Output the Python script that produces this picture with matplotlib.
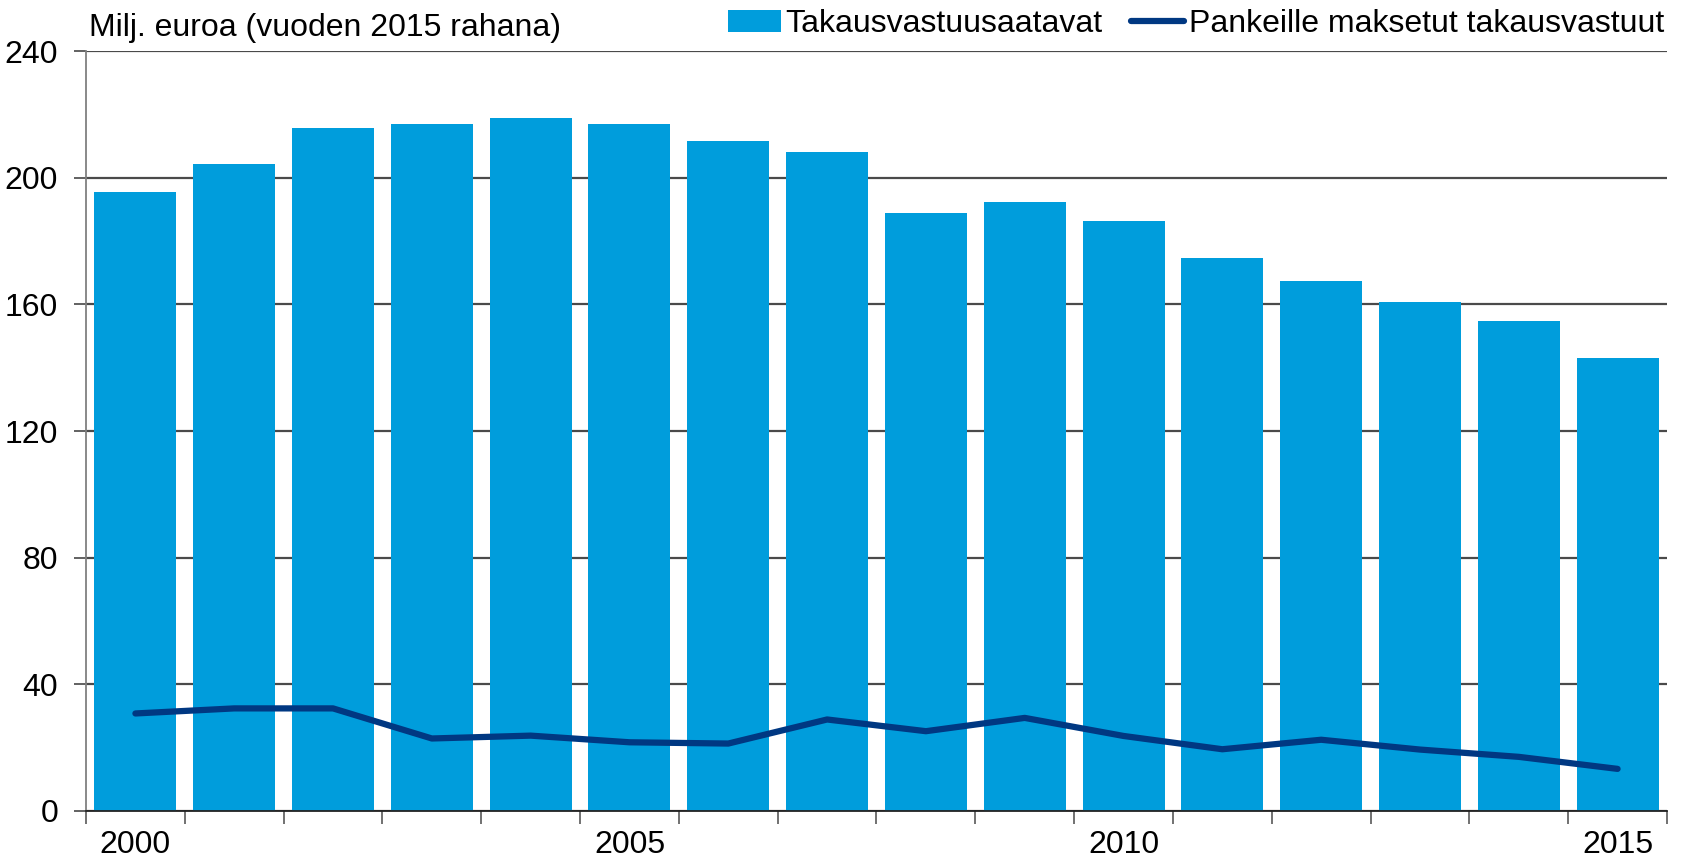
import matplotlib.pyplot as plt
import numpy as np

years = list(range(2000, 2016))
receivables = [195.6, 204.4, 215.6, 216.9, 219.0, 216.9, 211.5, 208.1,
               188.8, 192.2, 186.4, 174.6, 167.5, 160.7, 154.8, 143.2]
paid = [30.8, 32.4, 32.4, 22.9, 23.8, 21.7, 21.3, 28.9,
        25.2, 29.4, 23.7, 19.5, 22.5, 19.4, 17.1, 13.3]
tick_years = [2000, 2005, 2010, 2015]

BAR = "#009ddc"
LINE = "#003882"


def main():
    plt.rcParams.update({"font.family": ["Liberation Sans", "DejaVu Sans"], "font.size": 23})
    fig = plt.figure(figsize=(16.83, 8.61), dpi=100)
    ax = fig.add_axes([86 / 1683, 1 - 811 / 861, (1667 - 86) / 1683, (811 - 51) / 861])

    x = np.arange(len(years))
    bars = ax.bar(x, receivables, width=0.83, color=BAR, zorder=2, label="Takausvastuusaatavat")
    line, = ax.plot(x, paid, color=LINE, lw=4.5, zorder=3, solid_capstyle="round",
                    label="Pankeille maksetut takausvastuut")

    ax.set_xlim(-0.5, len(years) - 0.5)
    ax.set_ylim(0, 240)
    ax.set_yticks(range(0, 241, 40))
    ax.yaxis.grid(True, color="#4a4a4a", lw=1.6, zorder=1)
    ax.set_axisbelow(True)

    # tick marks between the bars, labels under selected years
    ax.set_xticks(np.arange(-0.5, len(years), 1.0))
    ax.set_xticklabels([])
    ax.set_xticks([years.index(y) for y in tick_years], minor=True)
    ax.set_xticklabels([str(y) for y in tick_years], minor=True)
    ax.tick_params(axis="x", which="major", length=9, width=1.3, color="#666666", direction="out")
    ax.tick_params(axis="x", which="minor", length=0, pad=14)
    ax.tick_params(axis="y", length=9, width=1.3, color="#555555", pad=11)

    for side in ("top", "right"):
        ax.spines[side].set_visible(False)
    ax.spines["left"].set_color("#808080")
    ax.spines["left"].set_linewidth(1.3)
    ax.spines["bottom"].set_color("#222222")
    ax.spines["bottom"].set_linewidth(1.3)

    fig.text(89 / 1683, 1 - 36 / 861, "Milj. euroa (vuoden 2015 rahana)", ha="left", va="baseline")
    fig.legend([bars, line], [bars.get_label(), line.get_label()],
               loc="center right", bbox_to_anchor=(1664 / 1683, 1 - 24 / 861), ncol=2,
               frameon=False, borderpad=0, borderaxespad=0, handlelength=1.65,
               handletextpad=0.15, columnspacing=0.9)

    fig.savefig("out.png", dpi=100)
    plt.close(fig)


if __name__ == "__main__":
    main()
